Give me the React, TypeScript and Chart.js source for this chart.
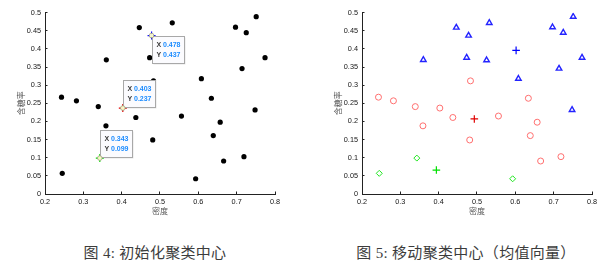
import React, { useEffect, useRef } from "react";
import { Chart, registerables } from "chart.js";

Chart.register(...registerables);

// 西瓜数据集 4.0：密度 / 含糖率
const density = [0.697, 0.774, 0.634, 0.608, 0.556, 0.403, 0.481, 0.437, 0.666, 0.243, 0.245, 0.343, 0.639, 0.657, 0.360, 0.593, 0.719, 0.359, 0.339, 0.282, 0.748, 0.714, 0.483, 0.478, 0.525, 0.751, 0.532, 0.473, 0.725, 0.446];
const sugar = [0.460, 0.376, 0.264, 0.318, 0.215, 0.237, 0.149, 0.211, 0.091, 0.267, 0.057, 0.099, 0.161, 0.198, 0.370, 0.042, 0.103, 0.188, 0.241, 0.257, 0.232, 0.346, 0.312, 0.437, 0.369, 0.489, 0.472, 0.376, 0.445, 0.459];

// initial centers (indices into the samples): blue, red, green clusters
const initialCenterIndex = [23, 5, 11];
// cluster of each sample after moving: 0 blue, 1 red, 2 green
const clusterOf = [0, 0, 1, 0, 1, 1, 1, 1, 1, 1, 2, 2, 1, 1, 0, 2, 1, 1, 1, 1, 0, 0, 1, 0, 0, 0, 0, 0, 0, 0];
// moved centers (mean vectors)
const centerX = [0.602, 0.493, 0.394];
const centerY = [0.396, 0.207, 0.066];

const xTicks = [0.2, 0.3, 0.4, 0.5, 0.6, 0.7, 0.8];
const xTickLabels = ["0.2", "0.3", "0.4", "0.5", "0.6", "0.7", "0.8"];
const yTicks = [0, 0.05, 0.1, 0.15, 0.2, 0.25, 0.3, 0.35, 0.4, 0.45, 0.5];
const yTickLabels = ["0", "0.05", "0.1", "0.15", "0.2", "0.25", "0.3", "0.35", "0.4", "0.45", "0.5"];

const xTitle = "密度";
const yTitle = "含糖率";
const caption1 = "图 4: 初始化聚类中心";
const caption2 = "图 5: 移动聚类中心（均值向量）";

// styles
const clusterColors = ["#2424ff", "#ff6f6f", "#1fe61f"];
const centerColors = ["#0000ff", "#e00000", "#00e000"];
const tipPlacement = ["below", "above", "above"];
const tickFont = { family: '"Liberation Sans", Arial, sans-serif', size: 7.3 };
const titleFont = { family: '"Noto Sans CJK SC", sans-serif', size: 8 };

function buildOptions(padRight: number) {
  return {
    animation: false as const,
    responsive: false,
    devicePixelRatio: 1,
    events: [] as any[],
    layout: { padding: { left: 0, right: padRight, top: 12.7, bottom: 2 } },
    plugins: { legend: { display: false }, tooltip: { enabled: false } },
    scales: {
      x: {
        type: "linear" as const,
        min: 0.2,
        max: 0.8,
        afterBuildTicks: (s: any) => {
          s.ticks = xTicks.map((v) => ({ value: v }));
        },
        afterFit: (s: any) => {
          s.height = 24;
        },
        ticks: {
          callback: (_v: any, i: number) => xTickLabels[i],
          font: tickFont,
          color: "#151515",
          padding: 6,
          maxRotation: 0,
          autoSkip: false,
        },
        grid: { drawOnChartArea: false, drawTicks: true, tickLength: -2.5, color: "#222", lineWidth: 1 },
        border: { display: true, color: "#222", width: 1 },
        title: { display: true, text: xTitle, font: titleFont, color: "#555", padding: { top: 0, bottom: 2.2 } },
      },
      y: {
        type: "linear" as const,
        min: 0,
        max: 0.5,
        afterBuildTicks: (s: any) => {
          s.ticks = yTicks.map((v) => ({ value: v }));
        },
        afterFit: (s: any) => {
          s.width = 45;
        },
        ticks: {
          callback: (_v: any, i: number) => yTickLabels[i],
          font: tickFont,
          color: "#151515",
          padding: 6.5,
          autoSkip: false,
        },
        grid: { drawOnChartArea: false, drawTicks: true, tickLength: -2.5, color: "#222", lineWidth: 1 },
        border: { display: true, color: "#222", width: 1 },
        title: { display: true, text: yTitle, font: titleFont, color: "#555", padding: { top: 16, bottom: 0 } },
      },
    },
  };
}

const datatipPlugin = {
  id: "datatips",
  afterDatasetsDraw(chart: any) {
    const ctx = chart.ctx as CanvasRenderingContext2D;
    const xs = chart.scales.x;
    const ys = chart.scales.y;
    initialCenterIndex.forEach((idx, k) => {
      const px = xs.getPixelForValue(density[idx]);
      const py = ys.getPixelForValue(sugar[idx]);
      const w = 32;
      const h = 27;
      const bx = Math.round(px) + 0.5;
      const by = tipPlacement[k] === "below" ? Math.round(py) + 0.5 : Math.round(py) - 0.5 - h;
      ctx.save();
      ctx.fillStyle = "rgba(0,0,0,0.10)";
      ctx.fillRect(bx + 1, by + 1, w, h);
      ctx.fillStyle = "#fbfbfe";
      ctx.fillRect(bx, by, w, h);
      ctx.strokeStyle = "#a8a8a8";
      ctx.lineWidth = 1;
      ctx.strokeRect(bx, by, w, h);
      ctx.font = 'bold 7px "Liberation Sans", Arial, sans-serif';
      ctx.textBaseline = "middle";
      ctx.textAlign = "left";
      ctx.fillStyle = "#3a3a3a";
      ctx.fillText("X", bx + 4, by + 9);
      ctx.fillText("Y", bx + 4, by + 19);
      ctx.fillStyle = "#1c8cff";
      ctx.fillText(density[idx].toFixed(3), bx + 10.5, by + 9);
      ctx.fillText(sugar[idx].toFixed(3), bx + 10.5, by + 19);
      ctx.beginPath();
      ctx.arc(px, py, 2.3, 0, Math.PI * 2);
      ctx.fillStyle = "rgba(255,255,205,0.95)";
      ctx.fill();
      ctx.strokeStyle = "#a0a080";
      ctx.lineWidth = 0.8;
      ctx.stroke();
      ctx.restore();
    });
  },
};

function ScatterCanvas(props: { left: number; width: number; padRight: number; datasets: any[]; plugins: any[] }) {
  const ref = useRef<HTMLCanvasElement>(null);
  useEffect(() => {
    const chart = new Chart(ref.current!, {
      type: "scatter",
      data: { datasets: props.datasets },
      options: buildOptions(props.padRight) as any,
      plugins: props.plugins,
    });
    return () => chart.destroy();
  }, []);
  return (
    <canvas
      ref={ref}
      width={props.width}
      height={220}
      style={{ position: "absolute", left: props.left, top: 0, width: props.width, height: 220 }}
    />
  );
}

export default function App() {
  const samples = density.map((x, i) => ({ x, y: sugar[i] }));

  const leftDatasets = [
    {
      data: samples.filter((_, i) => !initialCenterIndex.includes(i)),
      pointStyle: "circle",
      pointRadius: 2.6,
      backgroundColor: "#000",
      borderWidth: 0,
    },
    {
      data: initialCenterIndex.map((i) => samples[i]),
      pointStyle: "cross",
      pointRadius: 4,
      borderColor: centerColors,
      borderWidth: 1.2,
    },
  ];

  const styles = ["triangle", "circle", "rectRot"];
  const radii = [3.2, 3, 3];
  const rightDatasets: any[] = [0, 1, 2].map((c) => ({
    data: samples.filter((_, i) => clusterOf[i] === c),
    pointStyle: styles[c],
    pointRadius: radii[c],
    backgroundColor: "rgba(255,255,255,0)",
    borderColor: clusterColors[c],
    borderWidth: c === 0 ? 1.4 : 1,
  }));
  rightDatasets.push({
    data: centerX.map((x, i) => ({ x, y: centerY[i] })),
    pointStyle: "cross",
    pointRadius: 3.8,
    borderColor: centerColors,
    borderWidth: 1.2,
  });

  const captionStyle: React.CSSProperties = {
    position: "absolute",
    top: 245,
    height: 16,
    lineHeight: "16px",
    fontSize: 15,
    fontFamily: '"Liberation Serif", "Noto Sans CJK SC", serif',
    color: "#3c3c3c",
    textAlign: "center",
    whiteSpace: "nowrap",
    letterSpacing: "0.3px",
  };

  return (
    <div style={{ position: "absolute", left: 0, top: 0, width: 608, height: 270, background: "#fff", overflow: "hidden" }}>
      <ScatterCanvas left={0} width={300} padRight={25} datasets={leftDatasets} plugins={[datatipPlugin]} />
      <ScatterCanvas left={317} width={291} padRight={16} datasets={rightDatasets} plugins={[]} />
      <div style={{ ...captionStyle, left: 55, width: 200 }}>{caption1}</div>
      <div style={{ ...captionStyle, left: 316, width: 300 }}>{caption2}</div>
    </div>
  );
}
